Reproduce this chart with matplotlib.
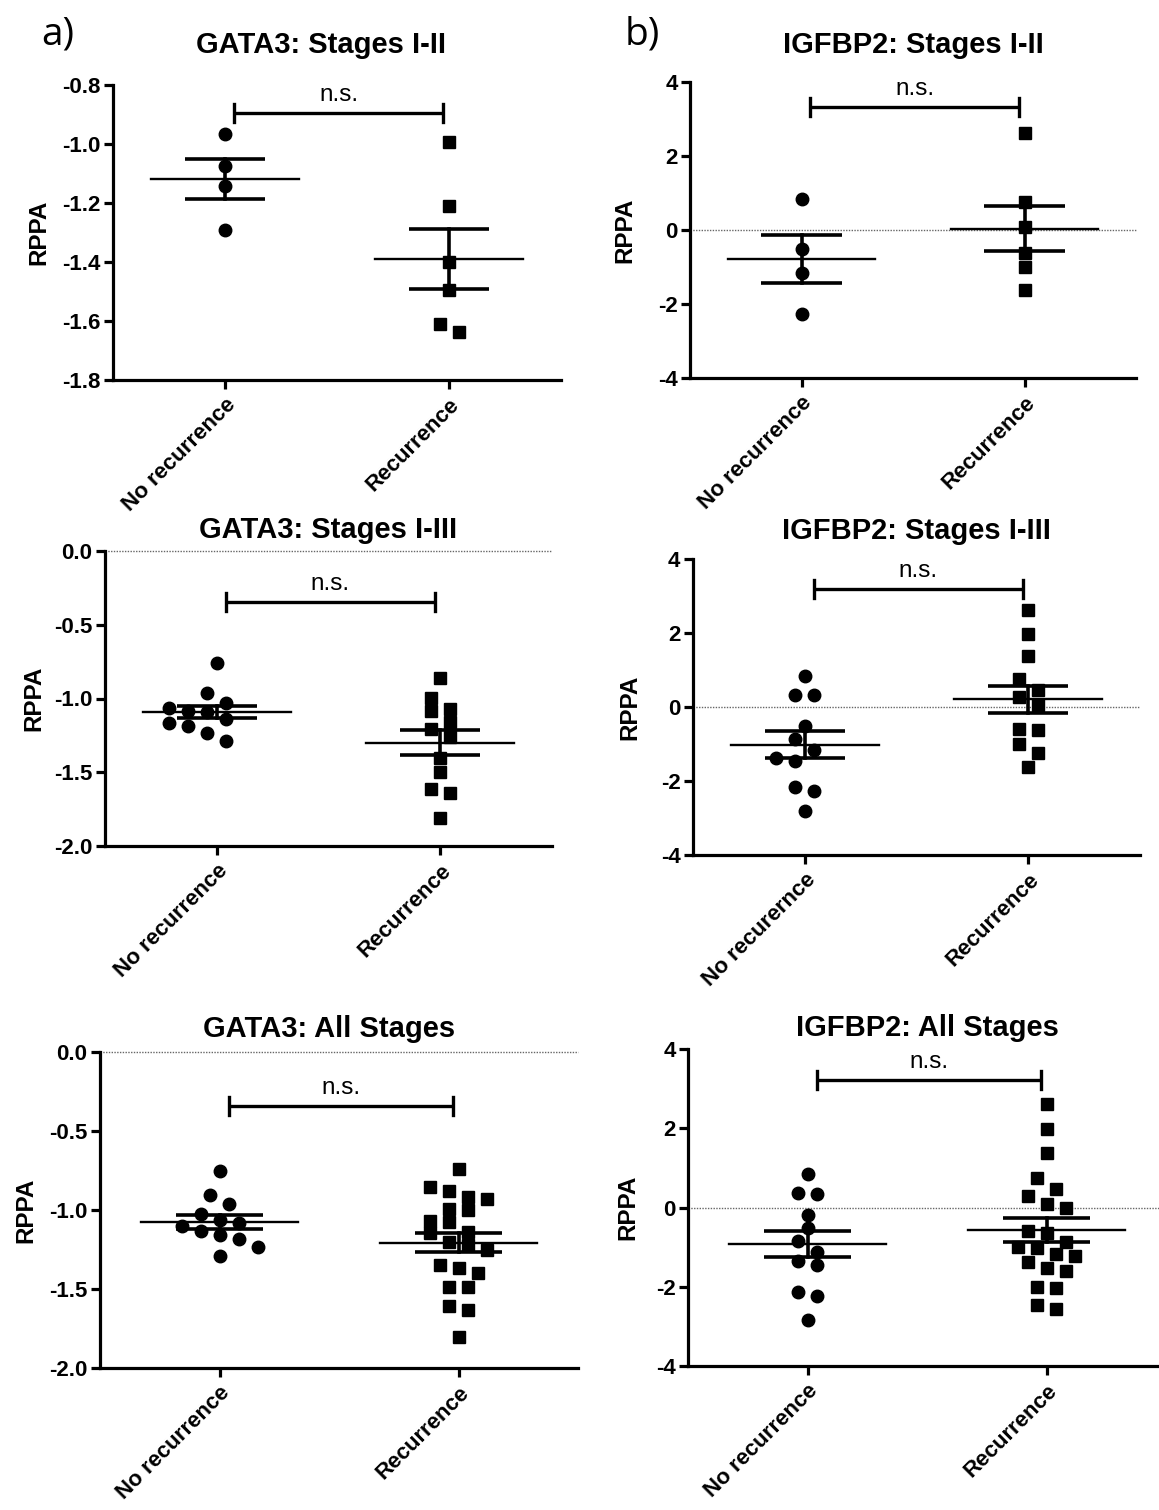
## Imports
import numpy as np
import matplotlib
matplotlib.use("Agg")
import matplotlib.pyplot as plt
from matplotlib.ticker import FuncFormatter

plt.rcParams['font.family'] = ['Liberation Sans', 'DejaVu Sans']
plt.rcParams['axes.unicode_minus'] = False

## Data (RPPA values) ##
groups = ["No recurrence", "Recurrence"]
groups_typo = ["No recurernce", "Recurrence"]

gata3_12_norec = [-0.967, -1.074, -1.141, -1.292]
gata3_12_rec = [-0.994, -1.209, -1.399, -1.495, -1.636, -1.610]

igfbp2_12_norec = [0.83, -0.52, -1.15, -2.26]
igfbp2_12_rec = [2.61, 0.76, 0.09, -0.61, -0.99, -1.62]

gata3_13_norec = [-0.758, -0.961, -1.029, -1.083, -1.067, -1.142, -1.187,
                  -1.164, -1.232, -1.288, -1.090]
gata3_13_rec = [-0.860, -0.995, -1.084, -1.074, -1.158, -1.210, -1.260,
                -1.400, -1.497, -1.614, -1.639, -1.813]

igfbp2_13_norec = [0.83, 0.33, 0.33, -0.52, -0.87, -1.15, -1.47, -1.38,
                   -2.15, -2.28, -2.82]
igfbp2_13_rec = [2.61, 1.98, 1.37, 0.76, 0.45, 0.27, 0.06, -0.63, -0.59,
                 -0.99, -1.24, -1.61]

gata3_all_norec = [-0.753, -0.903, -0.960, -1.023, -1.082, -1.065, -1.103,
                   -1.133, -1.181, -1.160, -1.234, -1.293]
gata3_all_rec = [-0.738, -0.880, -0.854, -0.928, -0.918, -0.991, -1.002,
                 -1.070, -1.076, -1.146, -1.139, -1.223, -1.200, -1.250,
                 -1.350, -1.396, -1.365, -1.487, -1.487, -1.610, -1.631,
                 -1.804]

igfbp2_all_norec = [0.85, 0.37, 0.35, -0.18, -0.51, -0.85, -1.13, -1.44,
                    -1.36, -2.12, -2.24, -2.83]
igfbp2_all_rec = [2.61, 1.97, 1.38, 0.75, 0.46, 0.29, 0.08, 0.00, -0.60,
                  -0.64, -0.87, -1.01, -0.99, -1.18, -1.23, -1.38, -1.52,
                  -1.60, -2.01, -2.02, -2.55, -2.47]

titles = ["GATA3: Stages I-II", "IGFBP2: Stages I-II",
          "GATA3: Stages I-III", "IGFBP2: Stages I-III",
          "GATA3: All Stages", "IGFBP2: All Stages"]
bracket_y = [-0.896, 3.33, -0.345, 3.2, -0.344, 3.22]

W, H = 1159, 1510
fig = plt.figure(figsize=(W / 100, H / 100), dpi=100)

## panel boxes in pixels: left, top, right, bottom (of the axes lines)
boxes = [(113, 85, 561, 380), (690, 82, 1136, 378),
         (105, 551, 552, 846), (693, 559, 1140, 855),
         (100, 1052, 578, 1368), (688, 1049, 1166, 1366)]
title_pads = [23, 21, 9, 14.5, 11, 9]
title_x = [0.464, 0.5, 0.5, 0.5, 0.48, 0.5]
label_off = [-63, -54, -60, -52, -63, -49]

panels = [
    (gata3_12_norec, gata3_12_rec, (-1.8, -0.8), np.arange(-1.8, -0.79, 0.2), "%.1f", groups),
    (igfbp2_12_norec, igfbp2_12_rec, (-4, 4), np.arange(-4, 5, 2), "%.0f", groups),
    (gata3_13_norec, gata3_13_rec, (-2.0, 0.0), np.arange(-2.0, 0.01, 0.5), "%.1f", groups),
    (igfbp2_13_norec, igfbp2_13_rec, (-4, 4), np.arange(-4, 5, 2), "%.0f", groups_typo),
    (gata3_all_norec, gata3_all_rec, (-2.0, 0.0), np.arange(-2.0, 0.01, 0.5), "%.1f", groups),
    (igfbp2_all_norec, igfbp2_all_rec, (-4, 4), np.arange(-4, 5, 2), "%.0f", groups),
]


## column scatter: spread points that would overlap, row by row
def swarm(vals, ppu_x, ppu_y, m=12.0, sx=19.0):
    v = np.asarray(vals, dtype=float)
    order = np.argsort(-v)
    ypx = v * ppu_y
    off = np.zeros(len(v))
    placed = []
    i = 0
    while i < len(order):
        row = [order[i]]
        j = i + 1
        while j < len(order) and ypx[order[i]] - ypx[order[j]] < m:
            row.append(order[j])
            j += 1
        n = len(row)
        base = (np.arange(n) - (n - 1) / 2) * sx
        for shift in [0, sx / 2, -sx / 2, sx, -sx, 1.5 * sx, -1.5 * sx, 2 * sx, -2 * sx]:
            xs = base + shift
            ok = all(abs(x - px) >= m or abs(ypx[k] - py) >= m
                     for x, k in zip(xs, row) for px, py in placed)
            if ok:
                break
        for x, k in zip(xs, row):
            placed.append((x, ypx[k]))
            off[k] = x / ppu_x
        i = j
    return off


for p, (norec, rec, ylim, yticks, fmt, xlabels) in enumerate(panels):
    l, t, r, b = boxes[p]
    ax = fig.add_axes([l / W, 1 - b / H, (r - l) / W, (b - t) / H])
    ax.set_xlim(-0.5, 1.5)
    ax.set_ylim(*ylim)
    ppu_x = (r - l) / 2.0
    ppu_y = (b - t) / (ylim[1] - ylim[0])

    for s in ["top", "right"]:
        ax.spines[s].set_visible(False)
    for s in ["left", "bottom"]:
        ax.spines[s].set_linewidth(2.3)

    if ylim[0] < 0 <= ylim[1]:
        ax.axhline(0, color="0.4", lw=1.0, ls=(0, (1, 1)), zorder=0, clip_on=False)

    for gi, (vals, mk) in enumerate([(norec, "o"), (rec, "s")]):
        vals = np.asarray(vals)
        dx = swarm(vals, ppu_x, ppu_y)
        ax.plot(gi + dx, vals, ls="none", marker=mk, ms=9 if mk == "o" else 8.3,
                color="black", mec="black", zorder=3, clip_on=False)
        mean = vals.mean()
        sem = vals.std(ddof=1) / np.sqrt(len(vals))
        ax.plot([gi - 0.33, gi + 0.33], [mean, mean], color="black", lw=1.7, zorder=4)
        ax.plot([gi - 0.18, gi + 0.18], [mean + sem] * 2, color="black", lw=2.6, zorder=4,
                solid_capstyle="butt")
        ax.plot([gi - 0.18, gi + 0.18], [mean - sem] * 2, color="black", lw=2.6, zorder=4,
                solid_capstyle="butt")
        ax.plot([gi, gi], [mean - sem, mean + sem], color="black", lw=2.6, zorder=4)

    ## significance bracket
    by = bracket_y[p]
    tk = 9 / ppu_y
    ax.plot([0.04, 0.975], [by, by], color="black", lw=2.4, solid_capstyle="butt")
    ax.plot([0.04, 0.04], [by - tk, by + tk], color="black", lw=2.4)
    ax.plot([0.975, 0.975], [by - tk, by + tk], color="black", lw=2.4)
    ax.annotate("n.s.", xy=(0.5075, by), xytext=(0, 5), textcoords="offset points",
                ha="center", va="bottom", fontsize=17.5)

    ax.set_yticks(yticks)
    ax.yaxis.set_major_formatter(FuncFormatter(lambda v, pos, f=fmt: f % v))
    ax.set_xticks([0, 1])
    ax.set_xticklabels(xlabels, rotation=45, ha="right", va="top",
                       rotation_mode="anchor", fontsize=16, fontweight="bold")
    ax.tick_params(axis="both", direction="out", length=6.5, width=2.3)
    ax.tick_params(axis="y", labelsize=16, pad=2.5)
    ax.tick_params(axis="x", pad=4)
    for lab in ax.get_yticklabels():
        lab.set_fontweight("bold")

    ax.set_ylabel("RPPA", fontsize=17.5, fontweight="bold")
    ax.yaxis.set_label_coords(label_off[p] / (r - l), 0.5)
    ax.set_title(titles[p], fontsize=21, fontweight="bold", pad=title_pads[p], x=title_x[p])

## panel letters
fig.text(41 / W, 1 - 45 / H, "a)", fontsize=28, family="Open Sans", va="baseline")
fig.text(625 / W, 1 - 45 / H, "b)", fontsize=28, family="Open Sans", va="baseline")

fig.savefig("out.png", dpi=100)
